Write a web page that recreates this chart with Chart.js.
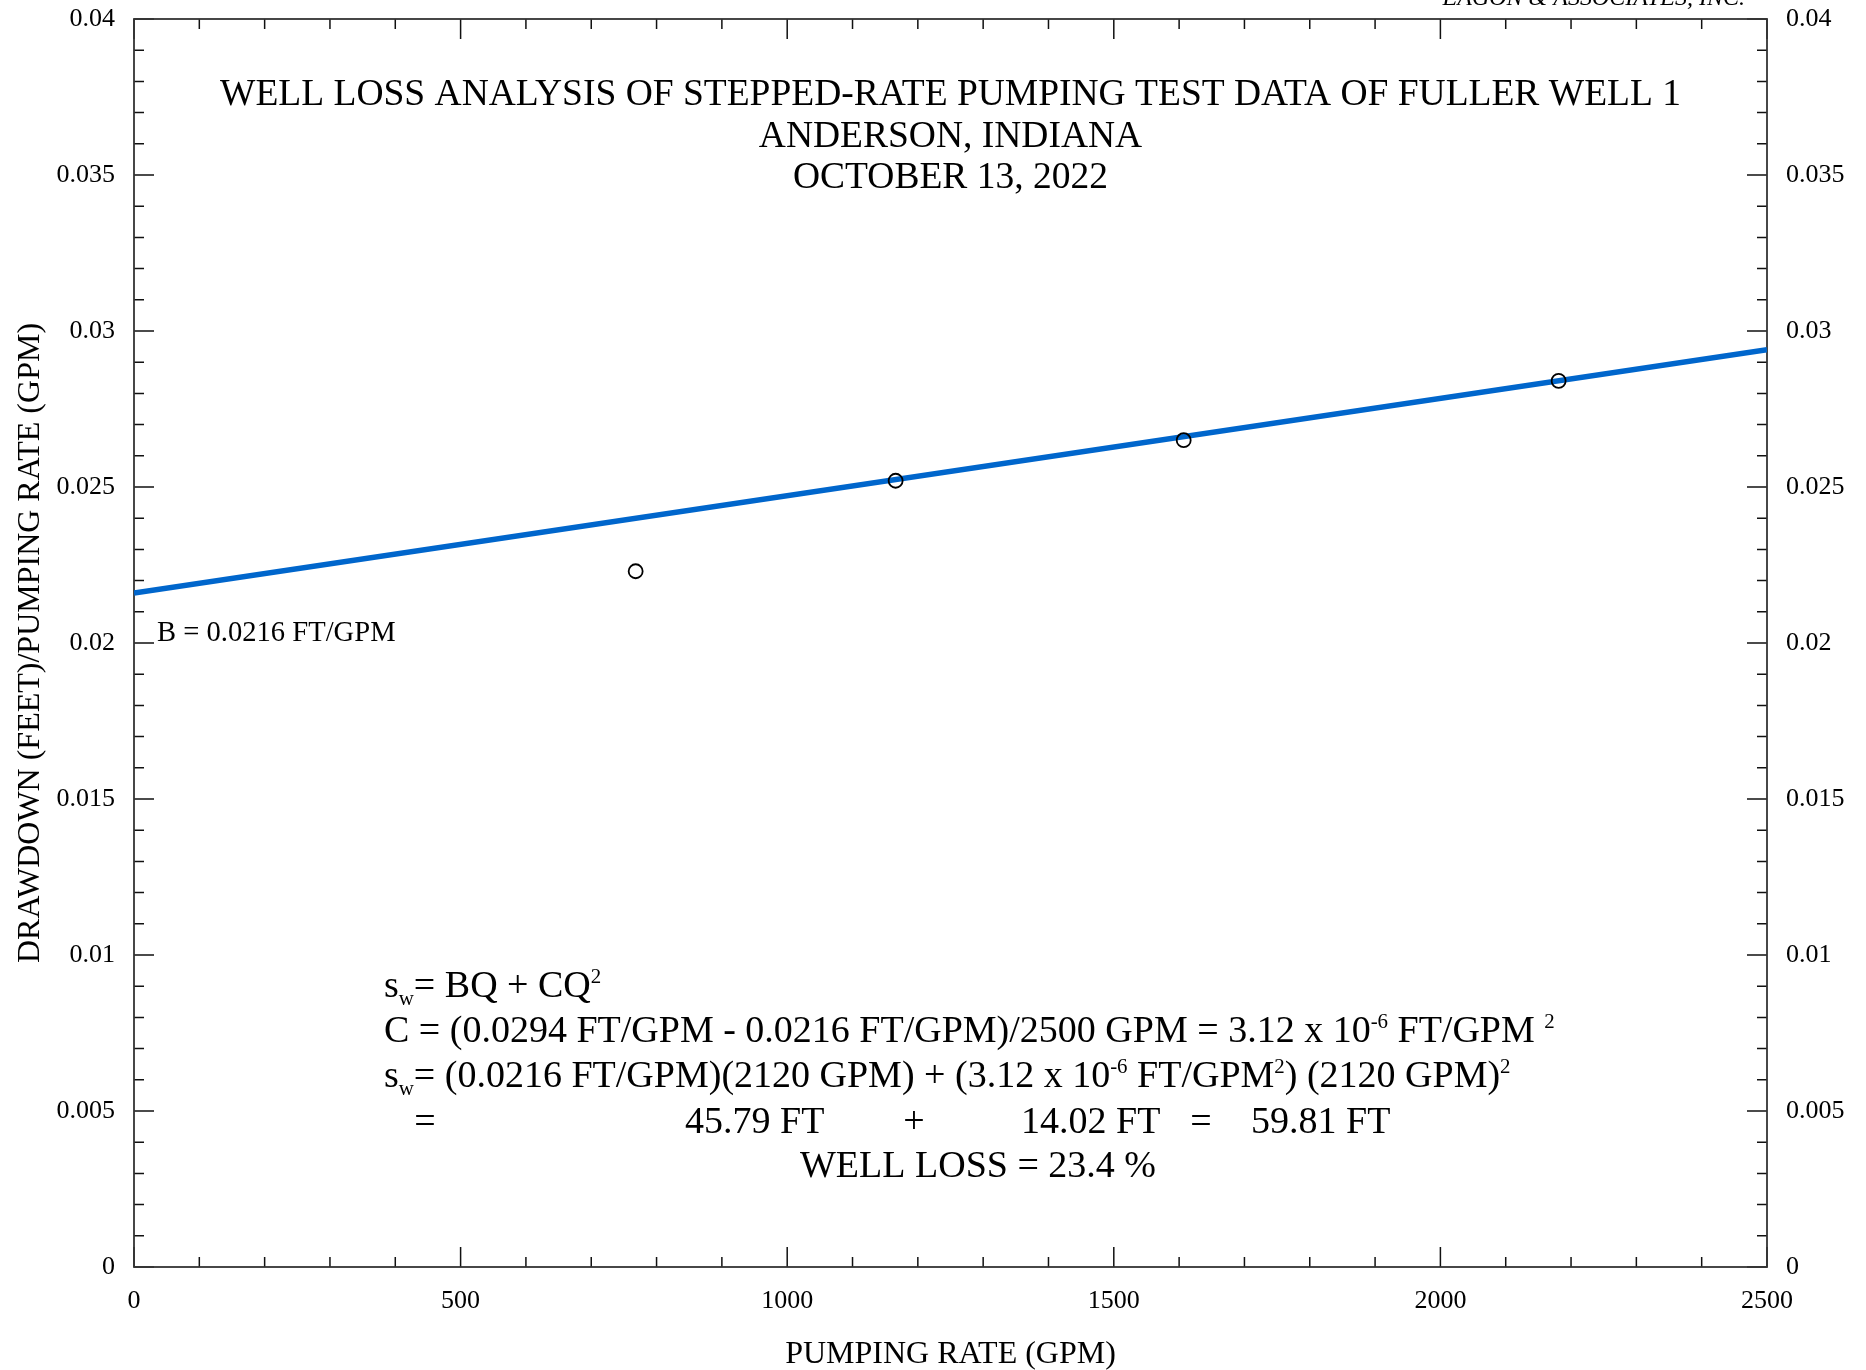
<!DOCTYPE html>
<html>
<head>
<meta charset="utf-8">
<title>Well loss analysis - Fuller Well 1</title>
<script src="https://cdn.jsdelivr.net/npm/chart.js@4.4.1/dist/chart.umd.min.js"></script>
<style>
  html, body { margin: 0; padding: 0; background: #fff; }
  canvas { display: block; }
</style>
</head>
<body>
<canvas id="wellLoss" width="1866" height="1370"></canvas>
<script>
// step test points: Q (gpm) and s/Q (ft/gpm)
const pumpingRate = [768, 1166, 1607, 2181];
const specificDrawdown = [0.0223, 0.0252, 0.0265, 0.0284];

// fitted straight line, at the two ends of the x axis
const fitRate = [0, 2500];
const fitDrawdown = [0.0216, 0.0294];

const xTickLabels = [0, 500, 1000, 1500, 2000, 2500];
const yTickLabels = [0, 0.005, 0.01, 0.015, 0.02, 0.025, 0.03, 0.035, 0.04];

const titleLines = [
  'WELL LOSS ANALYSIS OF STEPPED-RATE PUMPING TEST DATA OF FULLER WELL 1',
  'ANDERSON, INDIANA',
  'OCTOBER 13, 2022'
];
const xTitle = 'PUMPING RATE (GPM)';
const yTitle = 'DRAWDOWN (FEET)/PUMPING RATE (GPM)';

const serif = '"Liberation Serif", "Times New Roman", serif';

function pickLabel(v, list) {
  const hit = list.find(t => Math.abs(t - v) < 1e-9);
  return hit === undefined ? '' : String(hit);
}

// text with sub/superscripts, runs are strings or {sub:..} / {sup:..}
function drawRuns(ctx, runs, x, y, size) {
  ctx.textAlign = 'left';
  ctx.textBaseline = 'alphabetic';
  for (const r of runs) {
    let txt = r, fs = size, dy = 0;
    if (typeof r === 'object') {
      txt = r.sub !== undefined ? r.sub : r.sup;
      fs = size * 0.55;
      dy = r.sub !== undefined ? size * 0.2 : -size * 0.38;
    }
    ctx.font = fs + 'px ' + serif;
    ctx.fillText(txt, x, y + dy);
    x += ctx.measureText(txt).width;
  }
}

const framePlugin = {
  id: 'frame',
  beforeDatasetsDraw(chart) {
    const ctx = chart.ctx;
    const a = chart.chartArea;
    const xs = chart.scales.x, ys = chart.scales.y;
    ctx.save();
    ctx.strokeStyle = '#111';
    ctx.lineWidth = 1.5;
    ctx.beginPath();
    xs.ticks.forEach(t => {
      const px = xs.getPixelForValue(t.value);
      const len = Math.round(t.value) % 500 === 0 ? 20 : 10;
      ctx.moveTo(px, a.bottom); ctx.lineTo(px, a.bottom - len);
      ctx.moveTo(px, a.top); ctx.lineTo(px, a.top + len);
    });
    ys.ticks.forEach(t => {
      const py = ys.getPixelForValue(t.value);
      const len = Math.round(t.value * 1000) % 5 === 0 ? 20 : 10;
      ctx.moveTo(a.left, py); ctx.lineTo(a.left + len, py);
      ctx.moveTo(a.right, py); ctx.lineTo(a.right - len, py);
    });
    ctx.stroke();
    ctx.strokeStyle = '#333';
    ctx.lineWidth = 1.8;
    ctx.strokeRect(a.left, a.top, a.right - a.left, a.bottom - a.top);
    ctx.restore();
  },
  afterDraw(chart) {
    const ctx = chart.ctx;
    ctx.save();
    ctx.fillStyle = '#000';

    // firm name, cut at the top edge
    ctx.font = 'italic 24px ' + serif;
    ctx.textAlign = 'right';
    ctx.textBaseline = 'alphabetic';
    ctx.fillText('EAGON & ASSOCIATES, INC.', 1745, 5);

    // title block
    ctx.font = '37.5px ' + serif;
    ctx.textAlign = 'center';
    const cx = (chart.chartArea.left + chart.chartArea.right) / 2;
    [105, 146.5, 188].forEach((y, i) => ctx.fillText(titleLines[i], cx, y));

    // intercept label
    ctx.font = '28.6px ' + serif;
    ctx.textAlign = 'left';
    ctx.fillText('B = 0.0216 FT/GPM', 157, 641);

    // well loss equations
    const fs = 38;
    drawRuns(ctx, ['s', {sub: 'w'}, '= BQ + CQ', {sup: '2'}], 384, 997, fs);
    drawRuns(ctx, ['C = (0.0294 FT/GPM - 0.0216 FT/GPM)/2500 GPM = 3.12 x 10', {sup: '-6'}, ' FT/GPM ', {sup: '2'}], 384, 1042, fs);
    drawRuns(ctx, ['s', {sub: 'w'}, '= (0.0216 FT/GPM)(2120 GPM) + (3.12 x 10', {sup: '-6'}, ' FT/GPM', {sup: '2'}, ') (2120 GPM)', {sup: '2'}], 384, 1087, fs);
    ctx.font = fs + 'px ' + serif;
    ctx.textAlign = 'center';
    ctx.fillText('=', 425, 1133);
    ctx.fillText('+', 914, 1133);
    ctx.fillText('=', 1201, 1133);
    ctx.textAlign = 'left';
    ctx.fillText('45.79 FT', 685, 1133);
    ctx.fillText('14.02 FT', 1021, 1133);
    ctx.fillText('59.81 FT', 1251, 1133);
    ctx.fillText('WELL LOSS = 23.4 %', 800, 1177);
    ctx.restore();
  }
};

const tickFont = {family: serif, size: 26};
const titleFont = {family: serif, size: 32};

// fixed box sizes so the plot area lands where the original has it
function fixVertical(width) {
  return s => { s.width = width; s.paddingTop = 0; s.paddingBottom = 0; };
}

new Chart(document.getElementById('wellLoss'), {
  type: 'scatter',
  data: {
    datasets: [
      {
        label: 'Step test',
        data: pumpingRate.map((q, i) => ({x: q, y: specificDrawdown[i]})),
        pointStyle: 'circle',
        pointRadius: 7,
        pointBorderWidth: 1.8,
        pointBorderColor: '#000',
        pointBackgroundColor: 'rgba(0,0,0,0)',
        order: 0
      },
      {
        label: 'Fit',
        type: 'line',
        data: fitRate.map((q, i) => ({x: q, y: fitDrawdown[i]})),
        borderColor: '#0066CC',
        borderWidth: 5.5,
        pointRadius: 0,
        order: 1
      }
    ]
  },
  options: {
    responsive: false,
    animation: false,
    devicePixelRatio: 1,
    layout: {padding: {top: 19, left: 0, right: 0, bottom: 0}},
    plugins: {legend: {display: false}, tooltip: {enabled: false}},
    scales: {
      x: {
        type: 'linear', position: 'bottom', min: 0, max: 2500,
        grid: {display: false, drawTicks: false},
        border: {display: false},
        ticks: {stepSize: 100, autoSkip: false, maxRotation: 0, padding: 19, color: '#000', font: tickFont,
          callback: v => pickLabel(v, xTickLabels)},
        title: {display: true, text: xTitle, color: '#000', font: titleFont, padding: {top: -3.5, bottom: -3.5}},
        afterFit: s => { s.height = 103; s.paddingLeft = 0; s.paddingRight = 0; }
      },
      y: {
        type: 'linear', position: 'left', min: 0, max: 0.04,
        grid: {display: false, drawTicks: false},
        border: {display: false},
        ticks: {stepSize: 0.001, autoSkip: false, padding: 19, color: '#000', font: tickFont,
          callback: v => pickLabel(v, yTickLabels)},
        title: {display: true, text: yTitle, color: '#000', font: titleFont, padding: {top: 11, bottom: 0}},
        afterFit: fixVertical(134)
      },
      y2: {
        type: 'linear', position: 'right', min: 0, max: 0.04,
        grid: {display: false, drawTicks: false},
        border: {display: false},
        ticks: {stepSize: 0.001, autoSkip: false, padding: 19, color: '#000', font: tickFont,
          callback: v => pickLabel(v, yTickLabels)},
        afterFit: fixVertical(99)
      }
    }
  },
  plugins: [framePlugin]
});
</script>
</body>
</html>
